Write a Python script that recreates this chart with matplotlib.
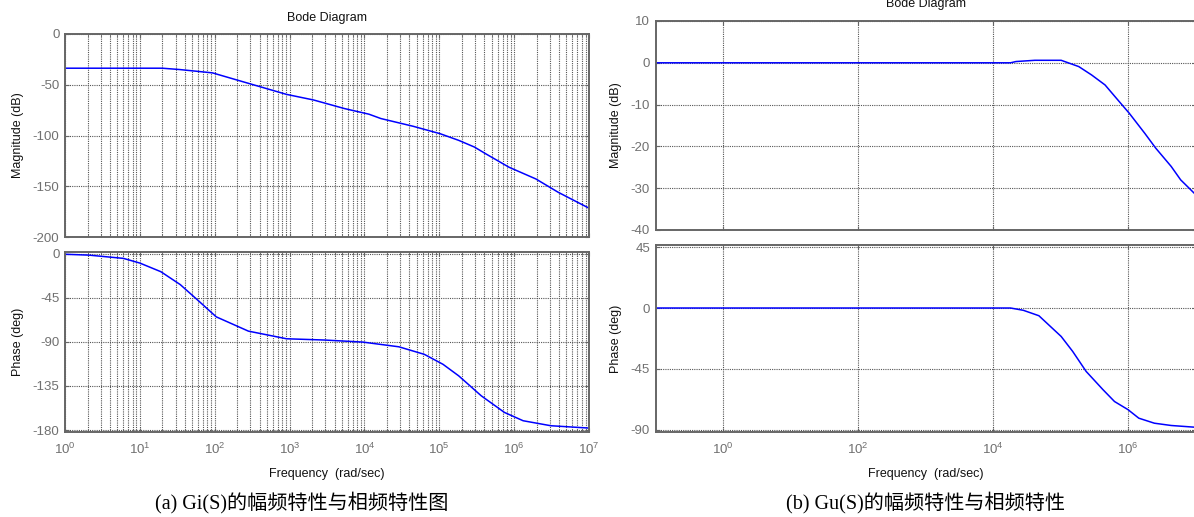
import numpy as np
import matplotlib
matplotlib.use("Agg")
import matplotlib.pyplot as plt
from matplotlib.ticker import LogLocator, FixedLocator, NullLocator, NullFormatter

plt.rcParams['font.family'] = ['Liberation Sans', 'DejaVu Sans']
plt.rcParams['mathtext.fontset'] = 'custom'
plt.rcParams['mathtext.rm'] = 'Liberation Sans'
plt.rcParams['axes.unicode_minus'] = False

# ---- Gi(S) data (left) ----
gi_mag_logw = [0.0, 1.30, 1.53, 1.97, 2.45, 2.96, 3.32, 3.73, 4.06, 4.22, 4.65, 5.01, 5.26, 5.47, 5.62, 5.93, 6.29, 6.59, 7.0]
gi_mag_db = [-33.7, -33.7, -35.0, -38.3, -48.6, -59.5, -65.0, -73.4, -79.0, -83.3, -90.9, -98.2, -104.8, -111.4, -118.0, -131.2, -142.8, -156.0, -171.6]

gi_ph_logw = [0.0, 0.32, 0.78, 1.0, 1.28, 1.54, 1.79, 2.02, 2.45, 2.96, 3.47, 3.98, 4.46, 4.80, 5.05, 5.26, 5.56, 5.87, 6.12, 6.49, 7.0]
gi_ph_deg = [-0.5, -1.4, -4.7, -9.5, -18.3, -31.5, -48.5, -64.4, -79.0, -86.8, -88.1, -90.2, -95.0, -102.7, -112.9, -124.7, -145.0, -162.0, -170.5, -175.6, -178.0]

# ---- Gu(S) data (right) ----
gu_mag_logw = [-1.0, 4.26, 4.34, 4.62, 5.01, 5.27, 5.46, 5.66, 5.85, 6.02, 6.25, 6.41, 6.64, 6.78, 7.0]
gu_mag_db = [0.0, 0.0, 0.3, 0.6, 0.6, -0.9, -2.9, -5.3, -8.9, -12.1, -16.9, -20.4, -24.8, -28.0, -31.5]

gu_ph_logw = [-1.0, 4.26, 4.45, 4.68, 5.01, 5.18, 5.38, 5.63, 5.80, 6.0, 6.16, 6.39, 6.64, 7.0]
gu_ph_deg = [0.0, 0.0, -1.7, -5.7, -21.0, -32.0, -46.8, -60.3, -69.0, -75.0, -81.3, -85.0, -86.7, -88.0]

left_mag_ticks = [0, -50, -100, -150, -200]
left_ph_ticks = [0, -45, -90, -135, -180]
right_mag_ticks = [10, 0, -10, -20, -30, -40]
right_ph_ticks = [45, 0, -45, -90]
right_x_ticks = [1e0, 1e2, 1e4, 1e6]

title_text = "Bode Diagram"
xlabel_text = "Frequency  (rad/sec)"
caption_a = "(a) Gi(S)的幅频特性与相频特性图"
caption_b = "(b) Gu(S)的幅频特性与相频特性"

W, H = 1194, 517
fig = plt.figure(figsize=(W / 100, H / 100), dpi=100)

def rect(x0, y0, x1, y1):
    return [x0 / W, 1 - y1 / H, (x1 - x0) / W, (y1 - y0) / H]

spine_c = '#666666'
tick_c = '#707070'
line_c = '#0000ff'
grid_ls = (0, (1, 1))

def style(ax, minor):
    for s in ax.spines.values():
        s.set_color(spine_c)
        s.set_linewidth(1.4)
    ax.tick_params(which='both', direction='in', top=True, right=True,
                   color=spine_c, labelcolor=tick_c, labelsize=9.5, length=3)
    ax.tick_params(axis='x', pad=7)
    ax.tick_params(axis='y', pad=4)
    ax.tick_params(which='minor', length=2)
    ax.grid(True, which='major', linestyle=grid_ls, color='#555555', linewidth=0.8)
    if minor:
        ax.grid(True, which='minor', axis='x', linestyle=grid_ls, color='#555555', linewidth=0.8)

# Left magnitude
ax1 = fig.add_axes(rect(65, 34, 589, 237))
ax1.semilogx(10 ** np.array(gi_mag_logw), gi_mag_db, color=line_c, lw=1.1)
ax1.set_xlim(1, 1e7)
ax1.set_ylim(-200, 0)
ax1.set_yticks(left_mag_ticks)
ax1.xaxis.set_major_locator(LogLocator(base=10, numticks=20))
ax1.xaxis.set_minor_locator(LogLocator(base=10, subs=np.arange(2, 10), numticks=20))
ax1.xaxis.set_major_formatter(NullFormatter())
ax1.xaxis.set_minor_formatter(NullFormatter())
style(ax1, True)
ax1.set_ylabel("Magnitude (dB)", fontsize=9, labelpad=6, color='#111111')
ax1.set_title(title_text, fontsize=9, pad=9, color='#111111')

# Left phase
ax2 = fig.add_axes(rect(65, 252, 589, 432))
ax2.semilogx(10 ** np.array(gi_ph_logw), gi_ph_deg, color=line_c, lw=1.1)
ax2.set_xlim(1, 1e7)
ax2.set_ylim(-182, 1.8)
ax2.set_yticks(left_ph_ticks)
ax2.xaxis.set_major_locator(LogLocator(base=10, numticks=20))
ax2.xaxis.set_minor_locator(LogLocator(base=10, subs=np.arange(2, 10), numticks=20))
ax2.xaxis.set_minor_formatter(NullFormatter())
style(ax2, True)
ax2.set_ylabel("Phase (deg)", fontsize=9, labelpad=6, color='#111111')
ax2.set_xlabel(xlabel_text, fontsize=9, labelpad=8, color='#111111')

# Right magnitude
ax3 = fig.add_axes(rect(655.5, 21, 1195.5, 230))
ax3.semilogx(10 ** np.array(gu_mag_logw), gu_mag_db, color=line_c, lw=1.1)
ax3.set_xlim(0.1, 1e7)
ax3.set_ylim(-40, 10)
ax3.set_yticks(right_mag_ticks)
ax3.xaxis.set_major_locator(FixedLocator(right_x_ticks))
ax3.xaxis.set_minor_locator(NullLocator())
ax3.xaxis.set_major_formatter(NullFormatter())
style(ax3, False)
ax3.set_ylabel("Magnitude (dB)", fontsize=9, labelpad=6, color='#111111')
ax3.set_title(title_text, fontsize=9, pad=10, color='#111111')

# Right phase
ax4 = fig.add_axes(rect(655.5, 245, 1195.5, 432))
ax4.semilogx(10 ** np.array(gu_ph_logw), gu_ph_deg, color=line_c, lw=1.1)
ax4.set_xlim(0.1, 1e7)
ax4.set_ylim(-91.5, 46.5)
ax4.set_yticks(right_ph_ticks)
ax4.xaxis.set_major_locator(FixedLocator(right_x_ticks))
ax4.xaxis.set_minor_locator(NullLocator())
style(ax4, False)
ax4.set_ylabel("Phase (deg)", fontsize=9, labelpad=6, color='#111111')
ax4.set_xlabel(xlabel_text, fontsize=9, labelpad=8, color='#111111')

cap_fam = ['Liberation Serif', 'Noto Sans CJK SC']
fig.text(302 / W, 1 - 503 / H, caption_a, ha='center', va='center', fontsize=14.5, family=cap_fam)
fig.text(925 / W, 1 - 503 / H, caption_b, ha='center', va='center', fontsize=14.5, family=cap_fam)

fig.savefig("out.png", dpi=100)
